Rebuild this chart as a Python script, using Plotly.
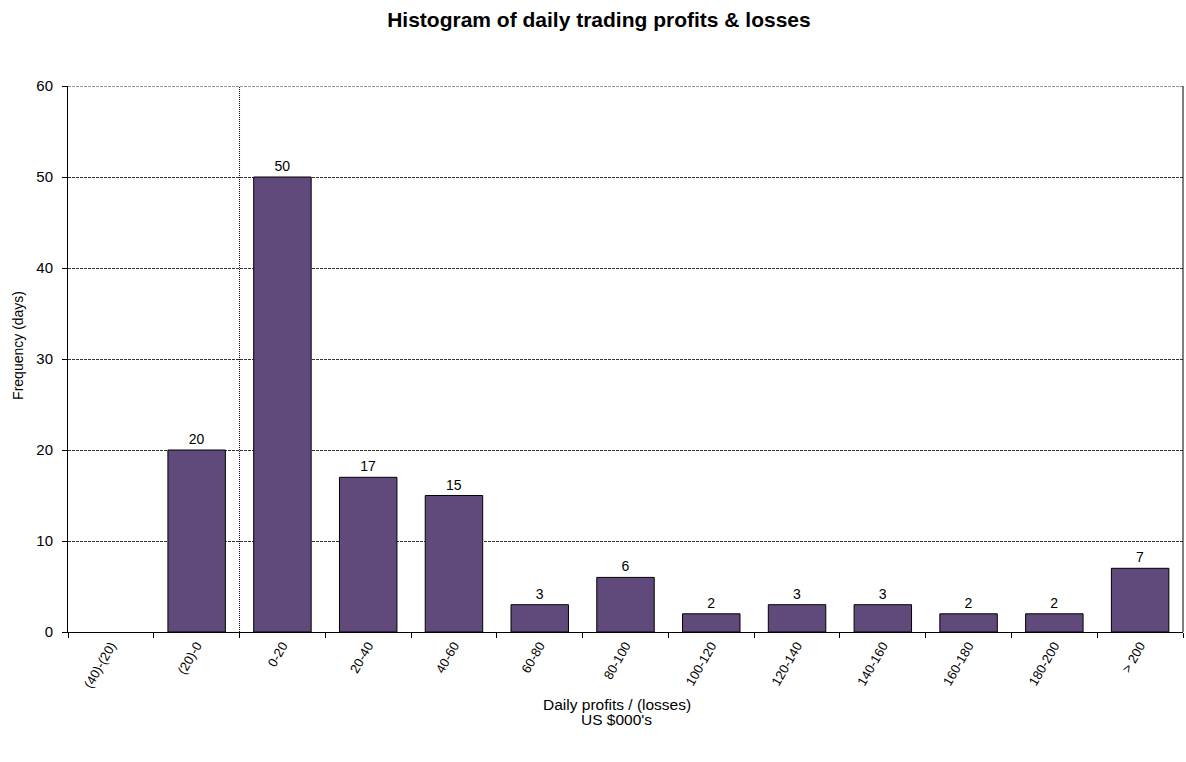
import plotly.graph_objects as go

categories = ["(40)-(20)", "(20)-0", "0-20", "20-40", "40-60", "60-80", "80-100",
              "100-120", "120-140", "140-160", "160-180", "180-200", "> 200"]
frequency = [0, 20, 50, 17, 15, 3, 6, 2, 3, 3, 2, 2, 7]
labels = ["" if v == 0 else str(v) for v in frequency]
outline = [0 if v == 0 else 1 for v in frequency]

font = "Liberation Sans, Arial, sans-serif"

fig = go.Figure()
fig.add_trace(go.Bar(
    x=categories, y=frequency, text=labels, textposition="outside",
    textfont=dict(size=14, color="black", family=font),
    marker=dict(color="#604A7B", line=dict(color="black", width=outline)),
    width=0.67, cliponaxis=False,
))

fig.add_shape(type="line", xref="x", yref="y", x0=1.5, x1=1.5, y0=0, y1=60,
              line=dict(color="black", width=1, dash="1px,1px"), layer="below")
fig.add_shape(type="line", xref="paper", yref="y", x0=0, x1=1, y0=60, y1=60,
              line=dict(color="#333333", width=1, dash="3px,1px"), layer="below")
fig.add_shape(type="line", xref="paper", yref="paper", x0=1, x1=1, y0=0, y1=1,
              line=dict(color="black", width=1))

fig.add_annotation(text="Frequency (days)", xref="paper", yref="paper", x=0, y=0.524,
                   xshift=-50, textangle=-90, showarrow=False,
                   xanchor="center", yanchor="middle", font=dict(size=14))
fig.add_annotation(text="Daily profits / (losses)", xref="paper", yref="paper",
                   x=0.492, y=-0.1327, showarrow=False,
                   xanchor="center", yanchor="middle", font=dict(size=15.5))
fig.add_annotation(text="US $000's", xref="paper", yref="paper",
                   x=0.492, y=-0.160, showarrow=False,
                   xanchor="center", yanchor="middle", font=dict(size=15.5))

fig.update_layout(
    width=1186, height=762,
    margin=dict(l=68, r=3, t=86, b=130, autoexpand=False),
    paper_bgcolor="white", plot_bgcolor="white",
    font=dict(family=font, color="black", size=12),
    showlegend=False,
    title=dict(text="<b>Histogram of daily trading profits & losses</b>",
               x=0.505, xanchor="center", y=0.9738, yanchor="middle",
               font=dict(size=21, family=font)),
    xaxis=dict(
        type="category", range=[-0.5, 12.5], tickson="boundaries",
        ticks="outside", ticklen=5, tickcolor="black",
        showline=True, linecolor="black", linewidth=1, mirror=False,
        tickangle=-60, tickfont=dict(size=13), automargin=False,
        showgrid=False,
    ),
    yaxis=dict(
        range=[0, 60], dtick=10, ticks="outside", ticklen=5, tickcolor="black",
        showline=True, linecolor="black", linewidth=1, automargin=False,
        showgrid=True, gridcolor="#333333", gridwidth=1, griddash="3px,1px",
        tickfont=dict(size=15), ticklabelstandoff=6,
        zeroline=False,
    ),
)

fig.write_html("out.html", config={"displayModeBar": False},
               post_script="document.body.style.margin='0';document.body.style.overflow='hidden';")
